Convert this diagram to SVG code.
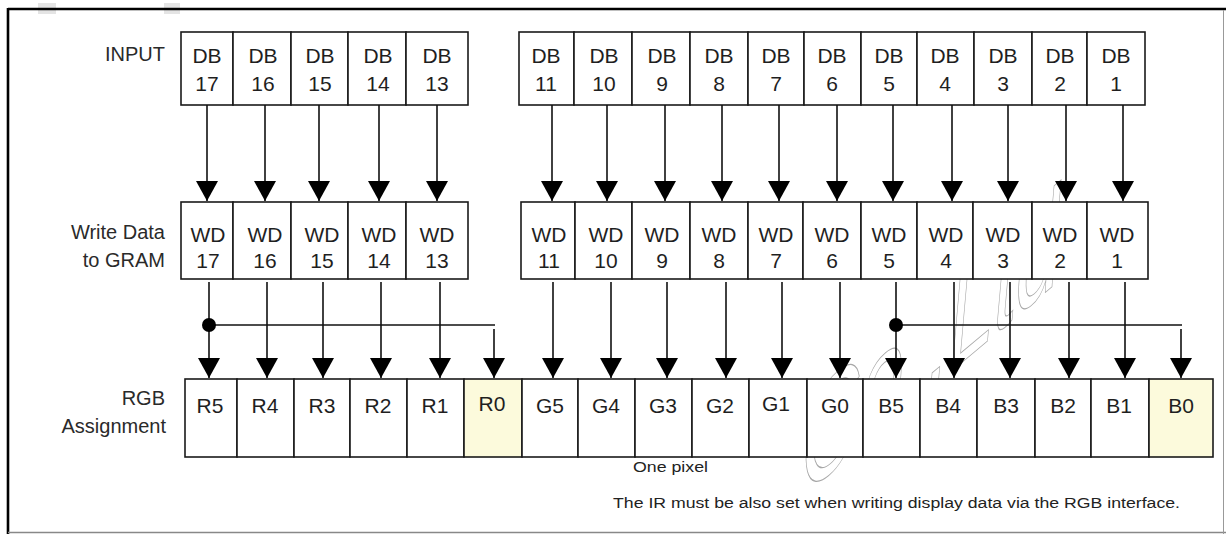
<svg xmlns="http://www.w3.org/2000/svg" width="1226" height="534" viewBox="0 0 1226 534">
<defs>
<style>
.box{fill:#fff;stroke:#1a1a1a;stroke-width:1.6}
.hl{fill:#fcfadc;stroke:#1a1a1a;stroke-width:1.6}
.t{font-family:"Liberation Sans",Arial,sans-serif;font-size:21px;fill:#1f1f1f;text-anchor:middle}
.lbl{font-family:"Liberation Sans",Arial,sans-serif;font-size:20px;fill:#2a2a2a;text-anchor:end}
.small{font-family:"Liberation Sans",Arial,sans-serif;font-size:14px;fill:#222}
.c{stroke:#111;stroke-width:1.6;fill:none}
.wm{font-family:"Liberation Sans",Arial,sans-serif;font-size:105px;fill:none;stroke:#a8a8a8;stroke-width:0.8}
</style>
<marker id="ah" viewBox="0 0 20 22" markerWidth="20" markerHeight="22" refX="20" refY="11" orient="auto" markerUnits="userSpaceOnUse">
<path d="M0,0 L20,11 L0,22 z" fill="#000"/>
</marker>
</defs>
<rect width="1226" height="534" fill="#fff"/>
<g id="frame">
<rect x="38" y="3" width="18" height="11" fill="#e4e4e4"/>
<rect x="164" y="3" width="16" height="11" fill="#e4e4e4"/>
<line x1="8" y1="9" x2="1226" y2="9" stroke="#000" stroke-width="2.6"/>
<line x1="8" y1="8" x2="8" y2="534" stroke="#000" stroke-width="2.6"/>
<line x1="8" y1="532.5" x2="1226" y2="532.5" stroke="#888" stroke-width="1.5"/>
<line x1="1223.5" y1="10" x2="1223.5" y2="534" stroke="#999" stroke-width="1"/>
</g>
<g id="watermark">
<text class="wm" transform="translate(798,500) rotate(-40) skewX(-45)">Co.,Ltd.</text>
</g>
<g id="row-labels">
<text class="lbl" x="165" y="61">INPUT</text>
<text class="lbl" x="165" y="239">Write Data</text>
<text class="lbl" x="165" y="267">to GRAM</text>
<text class="lbl" x="165" y="405">RGB</text>
<text class="lbl" x="166" y="433">Assignment</text>
</g>
<g id="input-row">
<g id="db17"><rect class="box" x="181" y="32" width="52" height="73"/><text class="t" x="207" y="63">DB</text><text class="t" x="207" y="91">17</text></g>
<g id="db16"><rect class="box" x="233" y="32" width="58" height="73"/><text class="t" x="263" y="63">DB</text><text class="t" x="263" y="91">16</text></g>
<g id="db15"><rect class="box" x="291" y="32" width="57" height="73"/><text class="t" x="320" y="63">DB</text><text class="t" x="320" y="91">15</text></g>
<g id="db14"><rect class="box" x="348" y="32" width="58" height="73"/><text class="t" x="378" y="63">DB</text><text class="t" x="378" y="91">14</text></g>
<g id="db13"><rect class="box" x="406" y="32" width="62" height="73"/><text class="t" x="437" y="63">DB</text><text class="t" x="437" y="91">13</text></g>
<g id="db11"><rect class="box" x="519" y="32" width="55" height="73"/><text class="t" x="546" y="63">DB</text><text class="t" x="546" y="91">11</text></g>
<g id="db10"><rect class="box" x="574" y="32" width="58" height="73"/><text class="t" x="604" y="63">DB</text><text class="t" x="604" y="91">10</text></g>
<g id="db9"><rect class="box" x="632" y="32" width="58" height="73"/><text class="t" x="662" y="63">DB</text><text class="t" x="662" y="91">9</text></g>
<g id="db8"><rect class="box" x="690" y="32" width="58" height="73"/><text class="t" x="719" y="63">DB</text><text class="t" x="719" y="91">8</text></g>
<g id="db7"><rect class="box" x="748" y="32" width="56" height="73"/><text class="t" x="776" y="63">DB</text><text class="t" x="776" y="91">7</text></g>
<g id="db6"><rect class="box" x="804" y="32" width="57" height="73"/><text class="t" x="832" y="63">DB</text><text class="t" x="832" y="91">6</text></g>
<g id="db5"><rect class="box" x="861" y="32" width="56" height="73"/><text class="t" x="889" y="63">DB</text><text class="t" x="889" y="91">5</text></g>
<g id="db4"><rect class="box" x="917" y="32" width="57" height="73"/><text class="t" x="945" y="63">DB</text><text class="t" x="945" y="91">4</text></g>
<g id="db3"><rect class="box" x="974" y="32" width="58" height="73"/><text class="t" x="1003" y="63">DB</text><text class="t" x="1003" y="91">3</text></g>
<g id="db2"><rect class="box" x="1032" y="32" width="55" height="73"/><text class="t" x="1060" y="63">DB</text><text class="t" x="1060" y="91">2</text></g>
<g id="db1"><rect class="box" x="1087" y="32" width="58" height="73"/><text class="t" x="1116" y="63">DB</text><text class="t" x="1116" y="91">1</text></g>
</g>
<g id="wd-row">
<g id="wd17"><rect class="box" x="181" y="202" width="52" height="77"/><text class="t" x="208" y="242">WD</text><text class="t" x="208" y="268">17</text></g>
<g id="wd16"><rect class="box" x="233" y="202" width="58" height="77"/><text class="t" x="265" y="242">WD</text><text class="t" x="265" y="268">16</text></g>
<g id="wd15"><rect class="box" x="291" y="202" width="57" height="77"/><text class="t" x="322" y="242">WD</text><text class="t" x="322" y="268">15</text></g>
<g id="wd14"><rect class="box" x="348" y="202" width="58" height="77"/><text class="t" x="379" y="242">WD</text><text class="t" x="379" y="268">14</text></g>
<g id="wd13"><rect class="box" x="406" y="202" width="62" height="77"/><text class="t" x="437" y="242">WD</text><text class="t" x="437" y="268">13</text></g>
<g id="wd11"><rect class="box" x="521" y="202" width="54" height="77"/><text class="t" x="549" y="242">WD</text><text class="t" x="549" y="268">11</text></g>
<g id="wd10"><rect class="box" x="575" y="202" width="57" height="77"/><text class="t" x="606" y="242">WD</text><text class="t" x="606" y="268">10</text></g>
<g id="wd9"><rect class="box" x="632" y="202" width="58" height="77"/><text class="t" x="662" y="242">WD</text><text class="t" x="662" y="268">9</text></g>
<g id="wd8"><rect class="box" x="690" y="202" width="58" height="77"/><text class="t" x="719" y="242">WD</text><text class="t" x="719" y="268">8</text></g>
<g id="wd7"><rect class="box" x="748" y="202" width="55" height="77"/><text class="t" x="776" y="242">WD</text><text class="t" x="776" y="268">7</text></g>
<g id="wd6"><rect class="box" x="803" y="202" width="58" height="77"/><text class="t" x="832" y="242">WD</text><text class="t" x="832" y="268">6</text></g>
<g id="wd5"><rect class="box" x="861" y="202" width="56" height="77"/><text class="t" x="889" y="242">WD</text><text class="t" x="889" y="268">5</text></g>
<g id="wd4"><rect class="box" x="917" y="202" width="56" height="77"/><text class="t" x="946" y="242">WD</text><text class="t" x="946" y="268">4</text></g>
<g id="wd3"><rect class="box" x="973" y="202" width="59" height="77"/><text class="t" x="1003" y="242">WD</text><text class="t" x="1003" y="268">3</text></g>
<g id="wd2"><rect class="box" x="1032" y="202" width="55" height="77"/><text class="t" x="1060" y="242">WD</text><text class="t" x="1060" y="268">2</text></g>
<g id="wd1"><rect class="box" x="1087" y="202" width="61" height="77"/><text class="t" x="1117" y="242">WD</text><text class="t" x="1117" y="268">1</text></g>
</g>
<g id="rgb-row">
<g id="r5"><rect class="box" x="185" y="379" width="52" height="78"/><text class="t" x="210" y="413">R5</text></g>
<g id="r4"><rect class="box" x="237" y="379" width="57" height="78"/><text class="t" x="265" y="413">R4</text></g>
<g id="r3"><rect class="box" x="294" y="379" width="56" height="78"/><text class="t" x="322" y="413">R3</text></g>
<g id="r2"><rect class="box" x="350" y="379" width="57" height="78"/><text class="t" x="378" y="413">R2</text></g>
<g id="r1"><rect class="box" x="407" y="379" width="57" height="78"/><text class="t" x="435" y="413">R1</text></g>
<g id="r0"><rect class="hl" x="464" y="379" width="58" height="78"/><text class="t" x="492" y="411">R0</text></g>
<g id="g5"><rect class="box" x="522" y="379" width="56" height="78"/><text class="t" x="550" y="413">G5</text></g>
<g id="g4"><rect class="box" x="578" y="379" width="57" height="78"/><text class="t" x="606" y="413">G4</text></g>
<g id="g3"><rect class="box" x="635" y="379" width="57" height="78"/><text class="t" x="663" y="413">G3</text></g>
<g id="g2"><rect class="box" x="692" y="379" width="57" height="78"/><text class="t" x="720" y="413">G2</text></g>
<g id="g1"><rect class="box" x="749" y="379" width="58" height="78"/><text class="t" x="776" y="411">G1</text></g>
<g id="g0"><rect class="box" x="807" y="379" width="56" height="78"/><text class="t" x="835" y="413">G0</text></g>
<g id="b5"><rect class="box" x="863" y="379" width="57" height="78"/><text class="t" x="891" y="413">B5</text></g>
<g id="b4"><rect class="box" x="920" y="379" width="57" height="78"/><text class="t" x="948" y="413">B4</text></g>
<g id="b3"><rect class="box" x="977" y="379" width="58" height="78"/><text class="t" x="1006" y="413">B3</text></g>
<g id="b2"><rect class="box" x="1035" y="379" width="56" height="78"/><text class="t" x="1063" y="413">B2</text></g>
<g id="b1"><rect class="box" x="1091" y="379" width="58" height="78"/><text class="t" x="1119" y="413">B1</text></g>
<g id="b0"><rect class="hl" x="1149" y="379" width="64" height="78"/><text class="t" x="1181" y="413">B0</text></g>
</g>
<g id="connectors">
<g class="c" marker-end="url(#ah)">
<line x1="207" y1="105" x2="207" y2="201"/>
<line x1="265" y1="105" x2="265" y2="201"/>
<line x1="319" y1="105" x2="319" y2="201"/>
<line x1="379" y1="105" x2="379" y2="201"/>
<line x1="437" y1="105" x2="437" y2="201"/>
<line x1="552" y1="105" x2="552" y2="201"/>
<line x1="607" y1="105" x2="607" y2="201"/>
<line x1="665" y1="105" x2="665" y2="201"/>
<line x1="722" y1="105" x2="722" y2="201"/>
<line x1="779" y1="105" x2="779" y2="201"/>
<line x1="837" y1="105" x2="837" y2="201"/>
<line x1="893" y1="105" x2="893" y2="201"/>
<line x1="952" y1="105" x2="952" y2="201"/>
<line x1="1008" y1="105" x2="1008" y2="201"/>
<line x1="1066" y1="105" x2="1066" y2="201"/>
<line x1="1123" y1="105" x2="1123" y2="201"/>
<line x1="209" y1="282" x2="209" y2="378"/>
<line x1="267" y1="282" x2="267" y2="378"/>
<line x1="323" y1="282" x2="323" y2="378"/>
<line x1="381" y1="282" x2="381" y2="378"/>
<line x1="440" y1="282" x2="440" y2="378"/>
<line x1="494" y1="329" x2="494" y2="378"/>
<line x1="553" y1="282" x2="553" y2="378"/>
<line x1="611" y1="282" x2="611" y2="378"/>
<line x1="667" y1="282" x2="667" y2="378"/>
<line x1="726" y1="282" x2="726" y2="378"/>
<line x1="782" y1="282" x2="782" y2="378"/>
<line x1="840" y1="282" x2="840" y2="378"/>
<line x1="896" y1="282" x2="896" y2="378"/>
<line x1="954" y1="282" x2="954" y2="378"/>
<line x1="1010" y1="282" x2="1010" y2="378"/>
<line x1="1069" y1="282" x2="1069" y2="378"/>
<line x1="1125" y1="282" x2="1125" y2="378"/>
<line x1="1181" y1="329" x2="1181" y2="378"/>
</g>
<line class="c" x1="209" y1="325" x2="495" y2="325"/>
<line class="c" x1="896" y1="325" x2="1182" y2="325"/>
<circle cx="209" cy="325" r="7" fill="#000"/>
<circle cx="896" cy="325" r="7" fill="#000"/>
</g>
<g id="notes">
<text class="small" x="633" y="472" textLength="75" lengthAdjust="spacingAndGlyphs">One pixel</text>
<text class="small" x="613" y="508" textLength="567" lengthAdjust="spacingAndGlyphs">The IR must be also set when writing display data via the RGB interface.</text>
</g>
</svg>
